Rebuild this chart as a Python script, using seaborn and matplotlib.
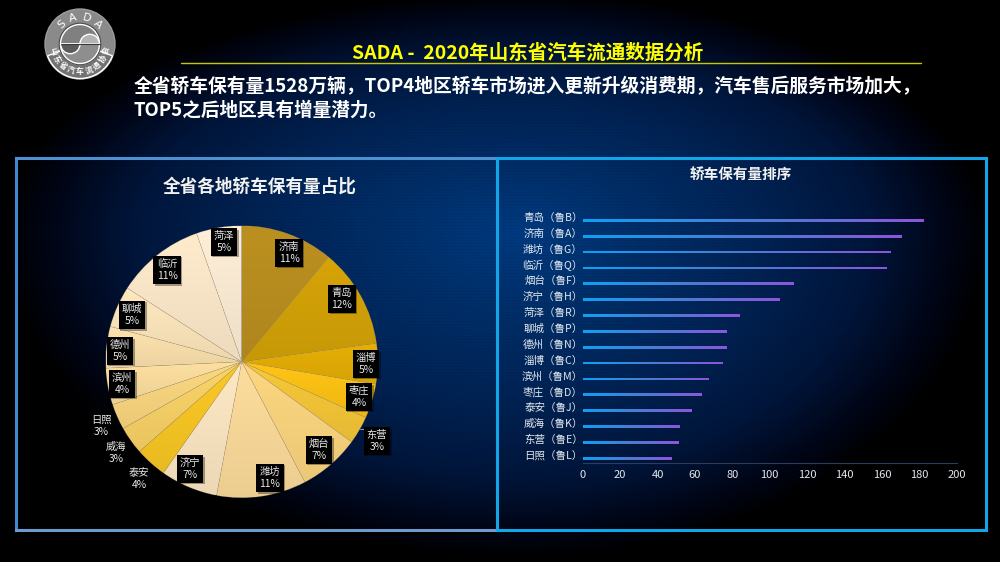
import numpy as np
import matplotlib
matplotlib.use("Agg")
import matplotlib.pyplot as plt
from matplotlib.colors import LinearSegmentedColormap
from matplotlib.patches import Rectangle, Circle, Wedge
from matplotlib.transforms import ScaledTranslation
import seaborn as sns
import pandas as pd

# ---- data ----
pie_cities = ["济南", "青岛", "淄博", "枣庄", "东营", "烟台", "潍坊", "济宁",
              "泰安", "威海", "日照", "滨州", "德州", "聊城", "临沂", "菏泽"]
pie_values = [170, 182, 74, 63, 51, 112, 164, 105, 58, 51, 47, 67, 76, 76, 162, 83]
pie_pcts = ["11%", "12%", "5%", "4%", "3%", "7%", "11%", "7%",
            "4%", "3%", "3%", "4%", "5%", "5%", "11%", "5%"]
rank_labels = ["青岛（鲁B）", "济南（鲁A）", "潍坊（鲁G）", "临沂（鲁Q）", "烟台（鲁F）", "济宁（鲁H）",
               "菏泽（鲁R）", "聊城（鲁P）", "德州（鲁N）", "淄博（鲁C）", "滨州（鲁M）", "枣庄（鲁D）",
               "泰安（鲁J）", "威海（鲁K）", "东营（鲁E）", "日照（鲁L）"]
rank_values = [182, 170.5, 164.5, 162.5, 112.5, 105, 83.5, 76.5, 76.5, 74.5, 67, 63.5, 58, 51.5, 51, 47.5]
x_ticks = list(range(0, 201, 20))

# ---- styling ----
pie_hex = ["#BC9020", "#D6A408", "#E6AF06", "#FFC414", "#F7C838", "#FDD780", "#FEDD9C", "#FEE8C4",
           "#FBC924", "#FBD468", "#FCD880", "#FDDFA0", "#FDE3AE", "#FEE8BE", "#FFEBCC", "#FFEFD8"]
label_px = [(289, 253), (342, 299), (366, 364), (359, 397), (377, 441), (319, 450), (270, 478), (190, 469),
            (139, 479), (116, 453), (101, 426), (122, 384), (120, 351), (132, 315), (167, 270), (224, 242)]

sns.set_theme(style="dark")
plt.rcParams["font.family"] = ["Noto Sans CJK SC", "DejaVu Sans"]
W, H = 1000, 562
fig = plt.figure(figsize=(W / 100, H / 100), dpi=100, facecolor="black")


def px_axes(l, t, r, b, **kw):
    return fig.add_axes([l / W, 1 - b / H, (r - l) / W, (b - t) / H], **kw)


# background glow with faint scan lines
bg = px_axes(0, 0, W, H)
yy, xx = np.mgrid[0:H, 0:W]
dx = np.where(xx < 520, (xx - 520) / 520.0, (xx - 520) / 470.0)
dy = np.where(yy < 230, (yy - 230) / 240.0, (yy - 230) / 330.0)
d = np.clip(np.sqrt(dx ** 2 + dy ** 2), 0, 1)
glow = LinearSegmentedColormap.from_list("g", [(0, "#003A80"), (0.25, "#002E68"), (0.5, "#002355"),
                                               (0.75, "#00153A"), (0.9, "#000618"), (1, "#000000")])
rgb = glow(d)[..., :3]
rgb[::3] *= 0.95
bg.imshow(rgb, extent=(0, W, H, 0), aspect="auto", zorder=0, interpolation="nearest")
bg.set_xlim(0, W)
bg.set_ylim(H, 0)
bg.axis("off")

# panels
bg.fill_between([18, 497], [530, 530], [535, 535], color="black", alpha=0.55, lw=0, zorder=1.5)
bg.plot([16, 16], [158, 530], color="#3E8AD2", lw=2.2, zorder=2, solid_capstyle="projecting")
bg.plot([16, 497], [158, 158], color="#4E90D0", lw=2.2, zorder=2, solid_capstyle="projecting")
bg.plot([16, 497], [530, 530], color="#6E9ACC", lw=2.2, zorder=2, solid_capstyle="projecting")
bg.add_patch(Rectangle((497, 158), 489, 372, fill=False, ec="#12A6E8", lw=2.2, zorder=2.5))

# headings
bg.plot([181, 921], [63, 63], color="#C8C800", lw=1, zorder=3)
bg.text(528, 53, "SADA -  2020年山东省汽车流通数据分析", color="#FFFF00", fontsize=14, fontweight="bold",
        ha="center", va="center", zorder=3)
bg.text(134, 87, "全省轿车保有量1528万辆，TOP4地区轿车市场进入更新升级消费期，汽车售后服务市场加大，",
        color="white", fontsize=13.5, fontweight="bold", ha="left", va="center", zorder=3)
bg.text(134, 110, "TOP5之后地区具有增量潜力。", color="white", fontsize=13.4, fontweight="bold",
        ha="left", va="center", zorder=3)
bg.text(260, 187, "全省各地轿车保有量占比", color="#F2F2F2", fontsize=12.7, fontweight="bold",
        ha="center", va="center", zorder=3)
bg.text(741, 175, "轿车保有量排序", color="#F2F2F2", fontsize=10.5, fontweight="bold",
        ha="center", va="center", zorder=3)

# logo
cx, cy, R = 80, 44, 35
bg.add_patch(Circle((cx, cy), R, fc="#8A8A8A", ec="#9C9C9C", lw=1, zorder=3))
bg.add_patch(Wedge((cx, cy), R - 0.5, 20, 160, width=14, fc="#727272", zorder=3.2))
bg.add_patch(Circle((cx, cy), 20.5, fc="#7E7E7E", ec="#4A4A4A", lw=1.2, zorder=4))
bg.add_patch(Wedge((cx, cy), 19.5, 180, 360, fc="#808080", zorder=4))
bg.add_patch(Wedge((cx, cy), 19.5, 0, 180, fc="#8E8E8E", zorder=4))
bg.add_patch(Wedge((cx - 9.7, cy), 9.7, 0, 180, fc="#5C5C5C", zorder=5))
bg.add_patch(Wedge((cx + 9.7, cy), 9.7, 180, 360, fc="#B4B4B4", zorder=5))
bg.plot([cx - 19.5, cx + 19.5], [cy, cy], color="#3A3A3A", lw=0.8, zorder=6)
for ch, a in zip("SADA", [-43, -15, 15, 43]):
    r = np.radians(a)
    bg.text(cx + 26.5 * np.sin(r), cy - 26.5 * np.cos(r), ch, color="white", fontsize=8, rotation=-a,
            ha="center", va="center", zorder=6, family="DejaVu Sans")
for ch, a in zip("山东省汽车流通协会", np.linspace(-76, 76, 9)):
    r = np.radians(a)
    bg.text(cx + 27.5 * np.sin(r), cy + 27.5 * np.cos(r), ch, color="white", fontsize=5.6, rotation=a,
            fontweight="bold", ha="center", va="center", zorder=6)

# pie
pcx, pcy, pr = 241.7, 361.7, 136
pie_ax = px_axes(pcx - pr, pcy - pr, pcx + pr, pcy + pr)
pie_ax.patch.set_alpha(0)
colors = sns.color_palette(pie_hex)
wedges, _ = pie_ax.pie(pie_values, colors=colors, startangle=90, counterclock=False, radius=1,
                       wedgeprops=dict(linewidth=0.4, edgecolor=(0.78, 0.68, 0.48, 0.3)))
for w, c in zip(wedges, colors):
    ext = w.get_path().get_extents(w.get_patch_transform())
    top = np.array(c)
    grad = np.linspace(0, 1, 64).reshape(-1, 1, 1) * (top * 0.93 - top) + top
    grad = grad * np.ones((64, 1, 3))
    im = pie_ax.imshow(grad, extent=(ext.x0, ext.x1, ext.y0, ext.y1), origin="upper", aspect="auto", zorder=0.5)
    im.set_clip_path(w)
    w.set_facecolor("none")
    w.set_zorder(1)
pie_ax.set_xlim(-1, 1)
pie_ax.set_ylim(-1, 1)
pie_ax.axis("off")

# bars
bar_ax = px_axes(582.7, 212.4, 956.7, 462.7)
bar_ax.patch.set_alpha(0)
df = pd.DataFrame({"city": rank_labels, "value": rank_values})
sns.barplot(data=df, y="city", x="value", orient="h", width=0.17, color="#3F80D8", ax=bar_ax, saturation=1,
            linewidth=0)
bar_cmap = LinearSegmentedColormap.from_list("b", ["#0EA0F2", "#4A7CD2", "#8C56DC"])
for p in list(bar_ax.patches):
    im = bar_ax.imshow(np.linspace(0, 1, 128).reshape(1, -1), cmap=bar_cmap,
                       extent=(p.get_x(), p.get_x() + p.get_width(), p.get_y() + p.get_height(), p.get_y()),
                       aspect="auto", zorder=3)
    im.set_clip_path(p)
    p.set_edgecolor("none")
bar_ax.set_xlim(0, 200)
bar_ax.set_ylim(15.28, -0.5)
bar_ax.set_xlabel("")
bar_ax.set_ylabel("")
bar_ax.set_xticks(x_ticks)
bar_ax.tick_params(axis="x", colors="#E4E8EE", labelsize=8, length=2.5, width=0.6, pad=3, color="#3A4A66")
bar_ax.tick_params(axis="y", colors="#E4E8EE", labelsize=7.6, length=0, pad=0)
shift = ScaledTranslation(0, 3.6 / 100, fig.dpi_scale_trans)
for t in bar_ax.get_yticklabels():
    t.set_transform(t.get_transform() + shift)
bar_ax.grid(False)
for s in ["top", "right", "left"]:
    bar_ax.spines[s].set_visible(False)
bar_ax.spines["bottom"].set_color("#2C3C5C")
bar_ax.spines["bottom"].set_linewidth(0.8)

# label overlay
top_ax = px_axes(0, 0, W, H)
top_ax.patch.set_alpha(0)
top_ax.set_xlim(0, W)
top_ax.set_ylim(H, 0)
top_ax.axis("off")
top_ax.plot([360, 366], [429.3, 429.3], color="#8FB8E0", lw=0.6)
for (x, y), name, pct in zip(label_px, pie_cities, pie_pcts):
    top_ax.text(x + 1.5, y + 1.5, f"{name}\n{pct}", color=(0, 0, 0, 0), fontsize=7.4, ha="center", va="center",
                linespacing=1.2, bbox=dict(boxstyle="square,pad=0.3", fc=(0, 0, 0, 0.35), ec="none"))
    top_ax.text(x, y, f"{name}\n{pct}", color="#E8E8E8", fontsize=7.4, ha="center", va="center",
                linespacing=1.2, bbox=dict(boxstyle="square,pad=0.3", fc="black", ec="none"))

fig.savefig("out.png", dpi=100, facecolor="black")
